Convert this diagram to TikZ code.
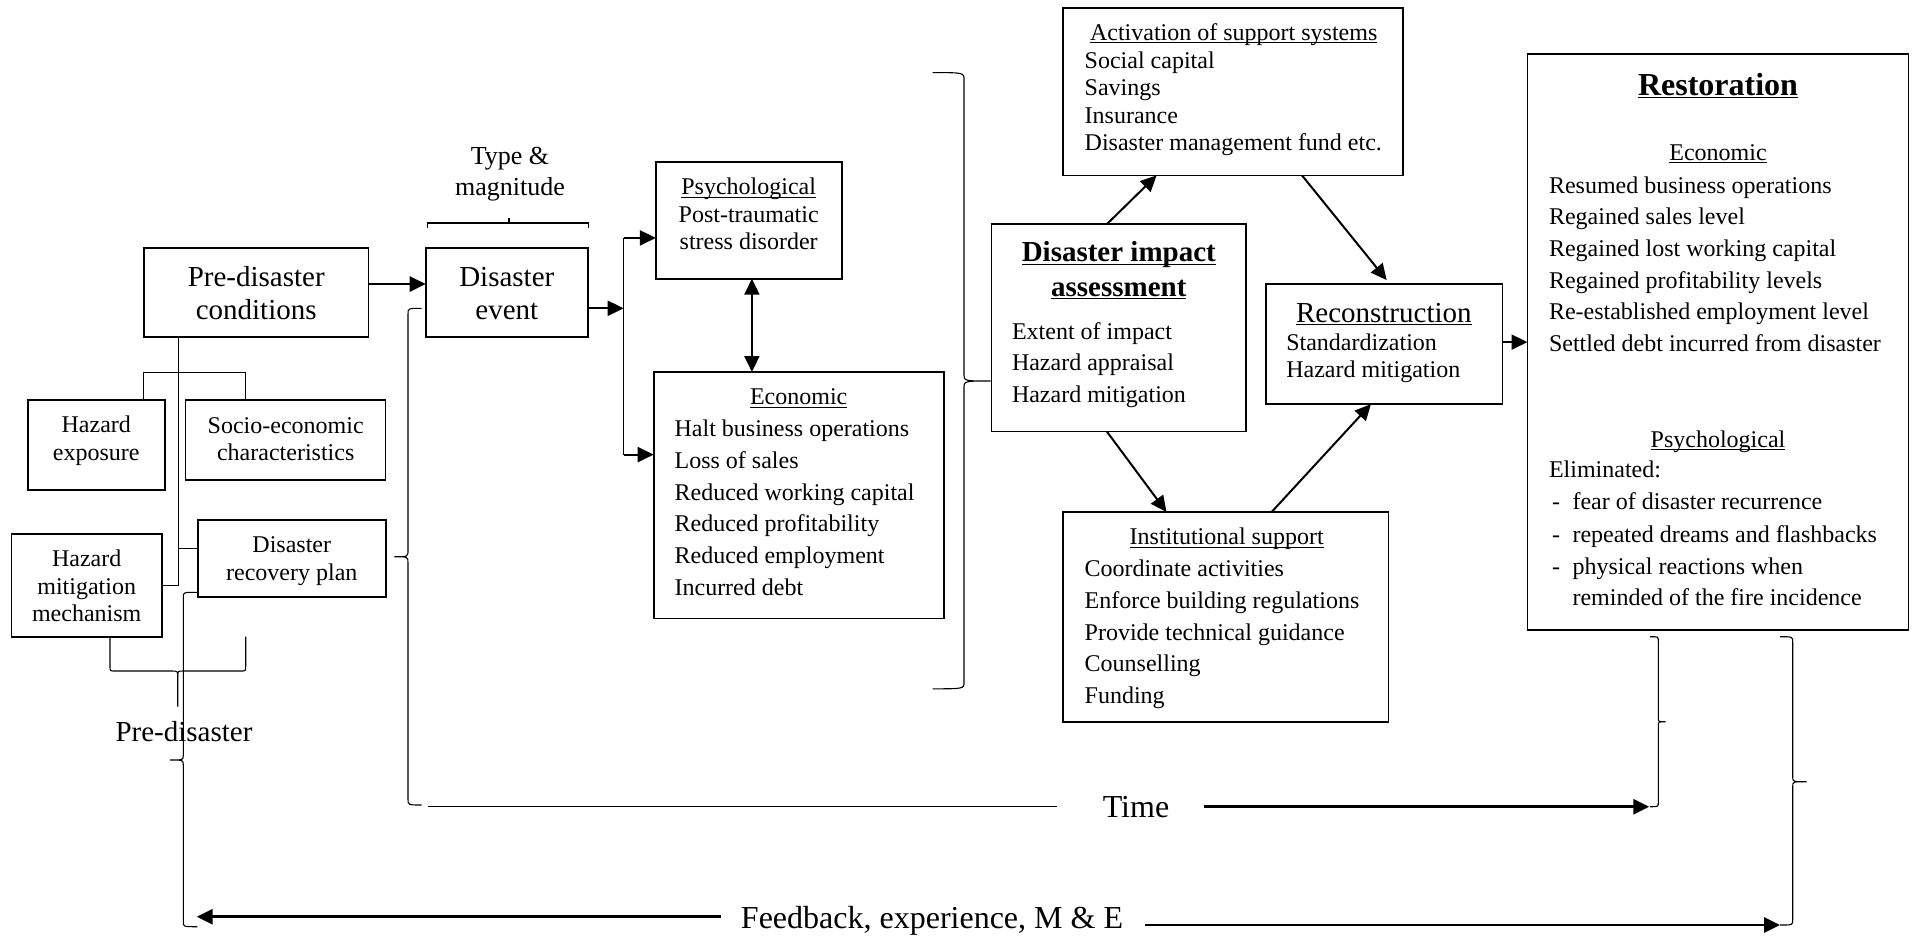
\documentclass[tikz,border=0pt]{standalone}
\usepackage{fontspec}
\setmainfont{Liberation Serif}
\usetikzlibrary{arrows.meta}
\newcommand\ulx[1]{\underline{\smash{#1}}}
\begin{document}
\begin{tikzpicture}[x=0.5pt,y=-0.5pt,
  box/.style={draw, line width=0.85pt, inner sep=0, outer sep=0, anchor=north west},
  thinbox/.style={box, line width=0.55pt},
  conn/.style={line width=0.55pt},
  brc/.style={line width=0.55pt},
  arr/.style={line width=1pt, -{Triangle[length=8pt,width=7.5pt]}},
  arrtwo/.style={line width=1pt, {Triangle[length=8pt,width=7.5pt]}-{Triangle[length=8pt,width=7.5pt]}},
  bigarr/.style={line width=1.4pt, -{Triangle[length=8pt,width=7.5pt]}},
  f12/.style={font=\fontsize{12}{14}\selectfont},
  f13/.style={font=\fontsize{13}{15}\selectfont},
  f145/.style={font=\fontsize{14.5}{17}\selectfont},
  f16/.style={font=\fontsize{16}{19}\selectfont},
  tl/.style={anchor=base west, inner sep=0, outer sep=0},
  tc/.style={anchor=base, inner sep=0, outer sep=0}]
\useasboundingbox (0,0) rectangle (1916,939);

% ---------------- boxes ----------------
\node[box, minimum width=112.45pt, minimum height=44.2pt] (pre) at (143.7,248.3) {};
\node[box, minimum width=81.05pt, minimum height=44.2pt] (event) at (425.7,248.3) {};
\node[box, minimum width=68.55pt, minimum height=45pt] (hazexp) at (27.8,400) {};
\node[thinbox, minimum width=100pt, minimum height=40pt] (socio) at (185.7,400) {};
\node[box, minimum width=93.85pt, minimum height=38.35pt] (drp) at (198,520) {};
\node[box, minimum width=75.3pt, minimum height=51.2pt] (hmm) at (11.4,534.3) {};
\node[box, minimum width=93.05pt, minimum height=58.3pt] (psych) at (655.9,162.1) {};
\node[box, minimum width=145.3pt, minimum height=123.25pt] (econ) at (653.7,372) {};
\node[box, minimum width=127.2pt, minimum height=103.75pt] (dia) at (991.6,224.1) {};
\node[box, minimum width=170pt, minimum height=83.8pt] (act) at (1063.1,7.8) {};
\node[box, minimum width=118.3pt, minimum height=60.15pt] (recon) at (1265.8,283.8) {};
\node[box, minimum width=162.7pt, minimum height=105.1pt] (inst) at (1063.1,512) {};
\node[box, minimum width=190.45pt, minimum height=287.9pt] (rest) at (1527.5,54.2) {};

% ---------------- texts ----------------
\node[tc,f13] (tm1) at (510,164) {Type \&};
\node[tc,f13] (tm2) at (510,195) {magnitude};

\node[tc,f145] (pre1) at (256.2,286) {Pre-disaster};
\node[tc,f145] (pre2) at (256.2,319) {conditions};
\node[tc,f145] (ev1) at (506.8,286) {Disaster};
\node[tc,f145] (ev2) at (506.8,319) {event};

\node[tc,f12] (he1) at (96.3,432.3) {Hazard};
\node[tc,f12] (he2) at (96.3,460) {exposure};
\node[tc,f12] (se1) at (285.7,433.3) {Socio-economic};
\node[tc,f12] (se2) at (285.7,460) {characteristics};
\node[tc,f12] (dr1) at (291.8,552.7) {Disaster};
\node[tc,f12] (dr2) at (291.8,580.7) {recovery plan};
\node[tc,f12] (hm1) at (86.7,566.7) {Hazard};
\node[tc,f12] (hm2) at (86.7,594) {mitigation};
\node[tc,f12] (hm3) at (86.7,621.7) {mechanism};
\node[tc,f145] (prelab) at (184,741.7) {Pre-disaster};

\node[tc,f12] (ps0) at (748.7,194.4) {\ulx{Psychological}};
\node[tc,f12] (ps1) at (748.7,222.8) {Post-traumatic};
\node[tc,f12] (ps2) at (748.7,249) {stress disorder};

\node[tc,f12] (ec0) at (798.7,404.2) {\ulx{Economic}};
\foreach \s [count=\i from 1] in {Halt business operations, Loss of sales, Reduced working capital, Reduced profitability, Reduced employment, Incurred debt}
  \node[tl,f12] (ec\i) at (674.6,{436.4+31.86*(\i-1)}) {\s};

\node[tc,f145] (dia1) at (1118.8,261.6) {\textbf{\ulx{Disaster impact}}};
\node[tc,f145] (dia2) at (1118.8,296) {\textbf{\ulx{assessment}}};
\foreach \s [count=\i from 1] in {Extent of impact, Hazard appraisal, Hazard mitigation}
  \node[tl,f12] (di\i) at (1012,{339+31.5*(\i-1)}) {\s};

\node[tc,f12] (act0) at (1233.7,40) {\ulx{Activation of support systems}};
\foreach \s [count=\i from 1] in {Social capital, Savings, Insurance, Disaster management fund etc.}
  \node[tl,f12] (act\i) at (1084.7,{68+27.6*(\i-1)}) {\s};

\node[tc,f145] (rec0) at (1383.8,322) {\ulx{Reconstruction}};
\node[tl,f12] (rec1) at (1286.3,350.5) {Standardization};
\node[tl,f12] (rec2) at (1286.3,377.6) {Hazard mitigation};

\node[tc,f12] (ins0) at (1226.7,544.3) {\ulx{Institutional support}};
\foreach \s [count=\i from 1] in {Coordinate activities, Enforce building regulations, Provide technical guidance, Counselling, Funding}
  \node[tl,f12] (ins\i) at (1084.7,{576.4+31.8*(\i-1)}) {\s};

\node[tc,f16] (rs0) at (1718,95) {\textbf{\ulx{Restoration}}};
\node[tc,f12] (rse) at (1718,160) {\ulx{Economic}};
\foreach \s [count=\i from 1] in {Resumed business operations, Regained sales level, Regained lost working capital, Regained profitability levels, Re-established employment level, Settled debt incurred from disaster}
  \node[tl,f12] (rs\i) at (1549,{193+31.7*(\i-1)}) {\s};
\node[tc,f12] (rsp) at (1718,447) {\ulx{Psychological}};
\node[tl,f12] (rel) at (1549,477.7) {Eliminated:};
\node[tl,f12] (d1) at (1552,509.8) {-};
\node[tl,f12] (r1) at (1572.5,509.8) {fear of disaster recurrence};
\node[tl,f12] (d2) at (1552,542) {-};
\node[tl,f12] (r2) at (1572.5,542) {repeated dreams and flashbacks};
\node[tl,f12] (d3) at (1552,574) {-};
\node[tl,f12] (r3) at (1572.5,574) {physical reactions when};
\node[tl,f12] (r4) at (1572.5,605.3) {reminded of the fire incidence};

\node[tc,f16] (time) at (1136,817.5) {Time};
\node[tc,f16] (fb) at (932,928.5) {Feedback, experience, M \& E};

% ---------------- connectors ----------------
\draw[line width=1.35pt, -{Triangle[length=8pt,width=7.5pt]}] (pre.east |- 0,284) -- (event.west |- 0,284);
\coordinate (fork) at (623.7,308.3);
\draw[arr] (event.east |- fork) -- (fork);
\draw[line width=0.7pt] (623.7,237.9) -- (623.7,454.6);
\draw[arr] (623.7,237.9) -- (psych.west |- 0,237.9);
\draw[arr] (623.7,454.6) -- (econ.west |- 0,454.6);
\draw[arrtwo] (psych.south -| 751.9,0) -- (econ.north -| 751.9,0);

\draw[arr] (dia.north -| 1106.9,0) -- (act.south -| 1156.6,0);
\draw[arr] (act.south -| 1302,0) -- (1386.7,280.1);
\draw[arr] (dia.south -| 1106.9,0) -- (inst.north -| 1166.5,0);
\draw[arr] (inst.north -| 1271.6,0) -- (recon.south -| 1371,0);
\draw[arr] (recon.east |- 0,342.1) -- (rest.west |- 0,342.1);

% tree of pre-disaster conditions
\draw[conn] (pre.south -| 178.4,0) -- (178.4,585.7) -- (hmm.east |- 0,585.7);
\draw[conn] (178.4,548.3) -- (drp.west |- 0,548.3);
\draw[conn] (hazexp.north -| 143.7,0) -- (143.7,372.3) -- (245.7,372.3) -- (socio.north -| 245.7,0);

% bracket: type & magnitude
\draw[brc] (427.7,227.5) -- (427.7,223) -- (588.9,223) -- (588.9,227.5);
\draw[brc] (509,223) -- (509,217.5);

% bracket: pre-disaster
\draw[brc] (110,636.7) -- (110,666) .. controls (110,671) .. (115,671) -- (172,671) .. controls (177.7,671) .. (177.7,677) -- (177.7,706.7);
\draw[brc] (245.7,636.7) -- (245.7,666) .. controls (245.7,671) .. (240.7,671) -- (183.4,671) .. controls (177.7,671) .. (177.7,677);

% brace from disaster event to Time line
\draw[brc] (421.6,308.3) .. controls (408,308.3) .. (408,314) -- (408,550) .. controls (408,556.7) .. (394.3,556.7) .. controls (408,556.7) .. (408,563) -- (408,799) .. controls (408,805) .. (421.7,805);
\coordinate (tl0) at (428.3,806.3);
\coordinate (tl1) at (1057,806.3);
\draw[conn] (tl0) -- (tl1);
\coordinate (ta0) at (1203.6,806.7);
\coordinate (ta1) at (1649.3,806.7);
\draw[bigarr] (ta0) -- (ta1);

% big brace before impact assessment
\draw[brc] (932.7,72.6) .. controls (964,72.6) .. (964,80) -- (964,374) .. controls (964,381) .. (990.7,381) .. controls (964,381) .. (964,388) -- (964,682) .. controls (964,688.8) .. (932.7,688.8);

% braces to the right of restoration
\draw[brc] (1650,636.7) .. controls (1658.3,636.7) .. (1658.3,641) -- (1658.3,718) .. controls (1658.3,721.7) .. (1665.7,721.7) .. controls (1658.3,721.7) .. (1658.3,725.5) -- (1658.3,802.5) .. controls (1658.3,806.7) .. (1650,806.7);
\draw[brc] (1780,636.7) .. controls (1792.7,636.7) .. (1792.7,642) -- (1792.7,777) .. controls (1792.7,781.7) .. (1806.7,781.7) .. controls (1792.7,781.7) .. (1792.7,786.5) -- (1792.7,920) .. controls (1792.7,925) .. (1780,925);

% feedback brace and arrows
\draw[brc] (197.3,592.3) .. controls (183.3,592.3) .. (183.3,597) -- (183.3,755) .. controls (183.3,760) .. (170,760) .. controls (183.3,760) .. (183.3,765) -- (183.3,922) .. controls (183.3,926.7) .. (197.3,926.7);
\coordinate (fl0) at (721,916.7);
\coordinate (fl1) at (196.7,916.7);
\coordinate (fr0) at (1145,925);
\coordinate (fr1) at (1780,925);
\draw[bigarr] (fl0) -- (fl1);
\draw[bigarr] (fr0) -- (fr1);
\end{tikzpicture}
\end{document}
